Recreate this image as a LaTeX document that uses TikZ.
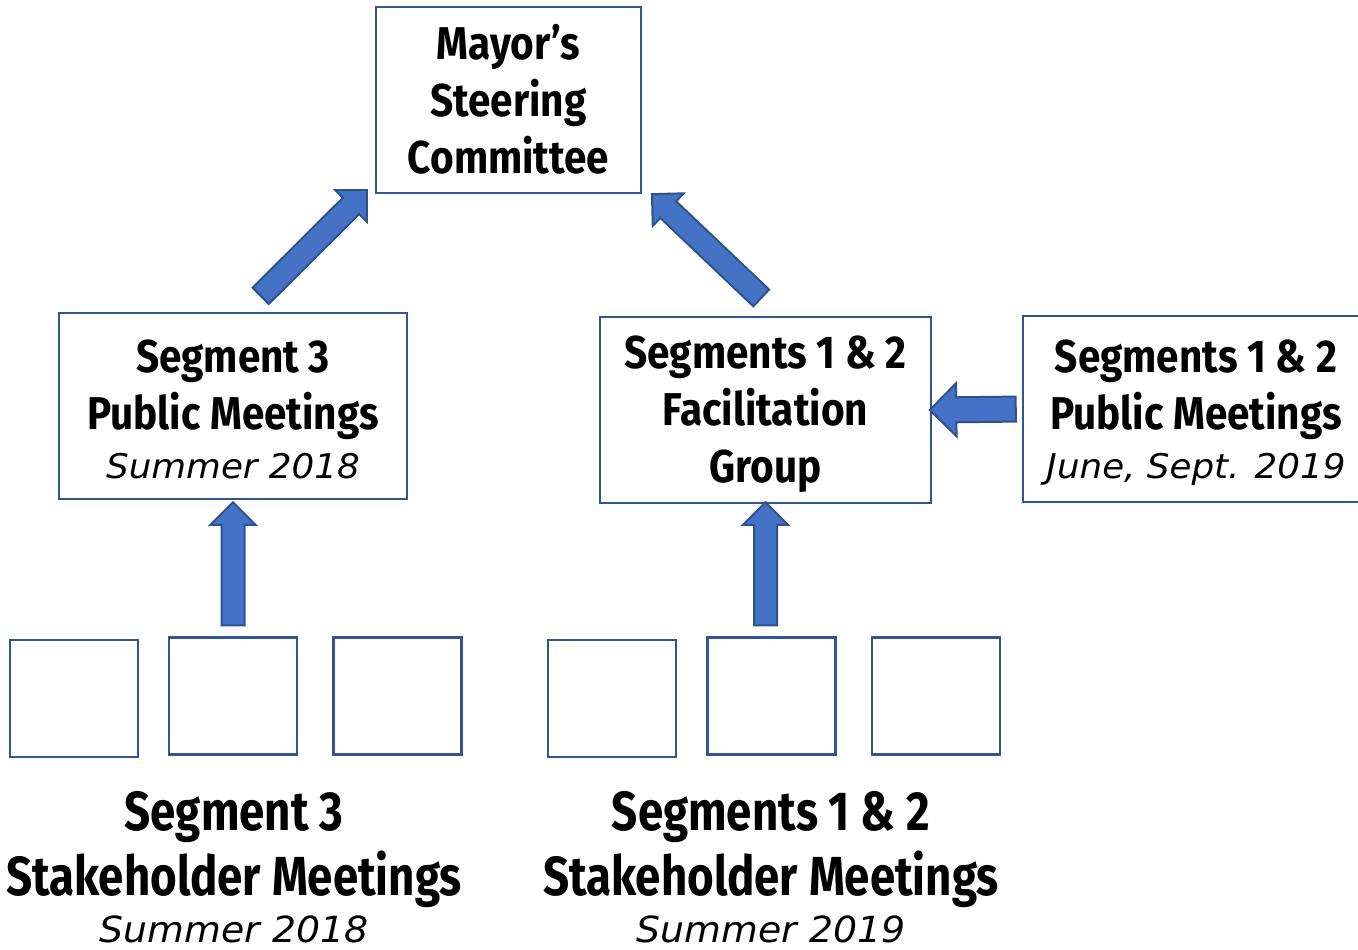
\documentclass[tikz,border=0pt]{standalone}
\usepackage{fontspec}
\usepackage{xcolor}
\usepackage{tikz}
\usetikzlibrary{shapes.arrows, calc, positioning}
\newfontfamily\boxfont[FakeStretch=0.88]{Fira Sans}
\newfontfamily\lblfont[FakeStretch=0.83]{Fira Sans}
\newfontfamily\datefont[FakeStretch=1.05]{DejaVu Sans}
\definecolor{boxblue}{HTML}{2F5597}
\definecolor{arrowfill}{HTML}{4472C4}
\definecolor{arrowline}{HTML}{2F528F}
% block arrow from #3 to #4, named #2
\newcommand{\bigarrow}[4][]{%
  \path let \p1=($(#4)-(#3)$) in
    node[blockarr, #1, rotate={atan2(\y1,\x1)}, minimum height={veclen(\x1,\y1)}] (#2) at ($(#3)!0.5!(#4)$) {};}
\newcommand{\when}[2][17]{{\datefont\mdseries\itshape\fontsize{#1}{20}\selectfont #2}}
\newcommand{\lift}[1]{\rule{0pt}{#1}}

\begin{document}
\begin{tikzpicture}[x=0.5pt, y=-0.5pt,
    box/.style={draw=boxblue, line width=1pt, inner sep=0pt, align=center,
        font=\boxfont\bfseries\fontsize{23}{28.5}\selectfont},
    stake/.style={draw=boxblue, line width=1.4pt, minimum width=64pt, minimum height=58.5pt},
    lbl/.style={anchor=north, inner sep=0pt, align=center,
        font=\lblfont\bfseries\fontsize{27.5}{32.5}\selectfont},
    blockarr/.style={single arrow, draw=arrowline, fill=arrowfill, line width=1pt,
        inner sep=0pt, text height=10.5pt, text depth=0pt,
        single arrow head extend=5.5pt, single arrow head indent=0pt}]
    \useasboundingbox (0,0) rectangle (1358,949);

    \node[box, minimum width=132.5pt, minimum height=93pt] (mayor) at (508.5,100)
        {Mayor’s\\Steering\\Committee\rule[-1.5pt]{0pt}{1pt}};
    \node[box, minimum width=174pt, minimum height=93pt] (pub3) at (233,406)
        {\lift{20pt}Segment 3\\Public Meetings\\[-4pt]\when{Summer 2018}};
    \node[box, minimum width=165.5pt, minimum height=93pt] (fac) at (765.5,410)
        {\lift{20.5pt}Segments 1 \& 2\\Facilitation\\Group};
    \node[box, minimum width=173pt, minimum height=93pt] (pub12) at (1196,409)
        {\lift{20pt}Segments 1 \& 2\\Public Meetings\\[-4pt]\when{June, Sept. 2019}};

    \node[stake] (st3a) at (74,698.5) {};
    \node[stake] (st3b) at (233,696) {};
    \node[stake] (st3c) at (397.5,696) {};
    \node[stake] (st12a) at (612,698.5) {};
    \node[stake] (st12b) at (771.5,696) {};
    \node[stake] (st12c) at (936,696) {};

    \node[lbl] (st3lbl) at (234,791)
        {Segment 3\\Stakeholder Meetings\\[-9pt]\when[18]{Summer 2018}};
    \node[lbl] (st12lbl) at (771,791)
        {Segments 1 \& 2\\Stakeholder Meetings\\[-9pt]\when[18]{Summer 2019}};

    \bigarrow{a1}{$(pub3.south |- st3b.north)+(0,-5)$}{[yshift=-4pt]pub3.south}
    \bigarrow{a2}{$(fac.south |- st12b.north)+(0,-5)$}{[yshift=-2pt]fac.south}
    \bigarrow[text height=11.5pt, single arrow head extend=7pt]{a3}{pub12.west}{[xshift=2pt]fac.east}
    \bigarrow{a4}{[xshift=11.75pt, yshift=6pt]pub3.north}{[xshift=-6pt]mayor.south west}
    \bigarrow{a5}{[yshift=7pt]fac.north}{[xshift=7pt, yshift=-2pt]mayor.south east}
\end{tikzpicture}
\end{document}
